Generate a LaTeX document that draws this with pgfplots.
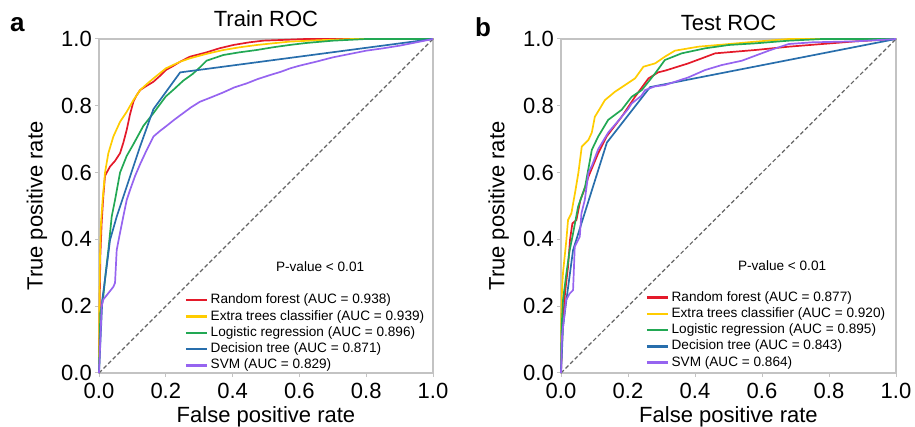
\documentclass[border=0pt]{standalone}
\usepackage{fontspec}
\setmainfont{Liberation Sans}
\usepackage{pgfplots}
\pgfplotsset{compat=1.18}
\definecolor{rfred}{RGB}{228,26,42}
\definecolor{etyellow}{RGB}{255,204,0}
\definecolor{lrgreen}{RGB}{34,168,84}
\definecolor{dtblue}{RGB}{40,110,172}
\definecolor{svmpurple}{RGB}{150,100,240}
\definecolor{framegray}{RGB}{195,195,195}
\definecolor{diaggray}{RGB}{100,100,100}

\pgfplotsset{rocaxis/.style={
  width=334pt, height=334pt, scale only axis,
  xmin=0, xmax=1, ymin=0, ymax=1,
  xtick={0,0.2,0.4,0.6,0.8,1}, ytick={0,0.2,0.4,0.6,0.8,1},
  xticklabels={0.0,0.2,0.4,0.6,0.8,1.0},
  yticklabels={0.0,0.2,0.4,0.6,0.8,1.0},
  tick label style={font=\fontsize{22}{26}\selectfont},
  xticklabel style={inner sep=0pt, yshift=-6pt},
  yticklabel style={inner sep=0pt, xshift=-3pt},
  axis line style={framegray, line width=1.2pt},
  tick style={framegray, line width=1pt},
  tick align=outside, major tick length=4pt,
  xtick pos=bottom, ytick pos=left,
  label style={font=\fontsize{22}{26}\selectfont},
  xlabel={False positive rate}, ylabel={True positive rate},
  xlabel style={at={(axis description cs:0.5,-0.132)}, anchor=center},
  ylabel style={at={(axis description cs:-0.186,0.5)}, anchor=center},
  title style={font=\fontsize{22}{26}\selectfont, anchor=base},
  clip=false,
  legend cell align=left,
  legend image code/.code={\draw[#1, line width=2.5pt] (0pt,0pt) -- (21pt,0pt);},
  every axis plot/.append style={line width=1.7pt},
}}

\begin{document}
\begin{tikzpicture}[x=1pt, y=1pt]
\useasboundingbox (0,0) rectangle (915,427);

% ---------------- Train ROC ----------------
\begin{axis}[rocaxis, at={(99pt,54pt)}, anchor=south west,
  title={Train ROC}, title style={at={(axis description cs:0.5,1.018)}},
  legend style={at={(axis description cs:0.256,0.238)}, anchor=north west,
    draw=none, fill=none, inner sep=0pt, row sep=3.3pt,
    font=\fontsize{13.6}{16}\selectfont,
    nodes={inner xsep=2.5pt, inner ysep=0pt, text height=10pt, text depth=3pt}}]
\addplot[forget plot, diaggray, line width=1.2pt, dash pattern=on 4pt off 2.5pt] coordinates {(0,0) (1,1)};
\addplot[rfred] coordinates {
(0,0) (0.002,0.2) (0.004,0.35) (0.008,0.45) (0.013,0.53) (0.018,0.59) (0.023,0.6)
(0.033,0.618) (0.048,0.635) (0.063,0.658) (0.073,0.69) (0.083,0.728) (0.093,0.775)
(0.103,0.812) (0.113,0.832) (0.123,0.847) (0.143,0.86) (0.163,0.872) (0.183,0.89)
(0.2,0.907) (0.22,0.918) (0.243,0.932) (0.272,0.947) (0.322,0.96) (0.36,0.972)
(0.402,0.982) (0.45,0.99) (0.492,0.995) (0.57,0.998) (0.62,1) (1,1)};
\addlegendentry{Random forest (AUC = 0.938)}
\addplot[etyellow] coordinates {
(0,0) (0.001,0.2) (0.003,0.35) (0.006,0.45) (0.011,0.52) (0.018,0.6) (0.028,0.658)
(0.043,0.708) (0.053,0.73) (0.063,0.752) (0.083,0.782) (0.103,0.817) (0.123,0.847)
(0.143,0.865) (0.163,0.882) (0.183,0.898) (0.2,0.912) (0.243,0.932) (0.272,0.942)
(0.32,0.955) (0.372,0.967) (0.42,0.975) (0.472,0.982) (0.52,0.987) (0.57,0.992)
(0.65,0.996) (0.76,1) (1,1)};
\addlegendentry{Extra trees classifier (AUC = 0.939)}
\addplot[lrgreen] coordinates {
(0,0) (0.004,0.18) (0.013,0.23) (0.02,0.3) (0.028,0.368) (0.038,0.468) (0.048,0.518)
(0.063,0.6) (0.083,0.65) (0.103,0.685) (0.133,0.74) (0.163,0.778) (0.2,0.828)
(0.225,0.85) (0.252,0.875) (0.28,0.895) (0.302,0.915) (0.322,0.935) (0.372,0.952)
(0.42,0.96) (0.472,0.967) (0.52,0.975) (0.57,0.982) (0.62,0.988) (0.7,0.995)
(0.8,1) (1,1)};
\addlegendentry{Logistic regression (AUC = 0.896)}
\addplot[dtblue] coordinates {
(0,0) (0.01,0.22) (0.023,0.318) (0.033,0.398) (0.053,0.468) (0.073,0.528)
(0.123,0.678) (0.163,0.79) (0.243,0.9) (1,1)};
\addlegendentry{Decision tree (AUC = 0.871)}
\addplot[svmpurple] coordinates {
(0,0) (0.008,0.2) (0.013,0.22) (0.043,0.258) (0.048,0.27) (0.053,0.368) (0.063,0.42)
(0.073,0.47) (0.083,0.518) (0.093,0.548) (0.108,0.59) (0.123,0.625) (0.143,0.668)
(0.163,0.708) (0.183,0.725) (0.2,0.738) (0.225,0.758) (0.252,0.778) (0.275,0.795)
(0.302,0.812) (0.335,0.825) (0.372,0.84) (0.405,0.855) (0.442,0.867) (0.475,0.88)
(0.512,0.892) (0.545,0.902) (0.572,0.912) (0.6,0.92) (0.65,0.932) (0.7,0.945)
(0.75,0.955) (0.8,0.965) (0.85,0.972) (0.9,0.98) (0.95,0.99) (1,1)};
\addlegendentry{SVM (AUC = 0.829)}
\node[font=\fontsize{13.6}{16}\selectfont] at (axis cs:0.662,0.317) {P-value < 0.01};
\end{axis}

% ---------------- Test ROC ----------------
\begin{axis}[rocaxis, at={(561pt,54pt)}, anchor=south west, width=335pt,
  title={Test ROC}, title style={at={(axis description cs:0.5,1.0075)}},
  legend style={at={(axis description cs:0.252,0.246)}, anchor=north west,
    draw=none, fill=none, inner sep=0pt, row sep=3.3pt,
    font=\fontsize{13.6}{16}\selectfont,
    nodes={inner xsep=2.5pt, inner ysep=0pt, text height=10pt, text depth=3pt}}]
\addplot[forget plot, diaggray, line width=1.2pt, dash pattern=on 4pt off 2.5pt] coordinates {(0,0) (1,1)};
\addplot[rfred] coordinates {
(0,0) (0.004,0.12) (0.012,0.24) (0.021,0.318) (0.027,0.40) (0.034,0.448) (0.046,0.458)
(0.058,0.518) (0.07,0.55) (0.082,0.588) (0.111,0.658) (0.136,0.708) (0.181,0.767)
(0.221,0.827) (0.261,0.882) (0.29,0.9) (0.31,0.905) (0.38,0.927) (0.46,0.957)
(0.58,0.967) (0.68,0.977) (0.88,0.993) (1,1)};
\addlegendentry{Random forest (AUC = 0.877)}
\addplot[etyellow] coordinates {
(0,0) (0.001,0.18) (0.003,0.25) (0.006,0.3) (0.016,0.398) (0.021,0.458) (0.031,0.478)
(0.038,0.518) (0.042,0.54) (0.052,0.6) (0.062,0.678) (0.082,0.698) (0.092,0.72)
(0.101,0.767) (0.115,0.79) (0.131,0.817) (0.161,0.842) (0.191,0.862) (0.221,0.882)
(0.246,0.917) (0.281,0.927) (0.31,0.947) (0.34,0.965) (0.41,0.977) (0.48,0.983)
(0.58,0.992) (0.68,1) (1,1)};
\addlegendentry{Extra trees classifier (AUC = 0.920)}
\addplot[lrgreen] coordinates {
(0,0) (0.001,0.09) (0.002,0.14) (0.006,0.218) (0.016,0.298) (0.026,0.368) (0.036,0.418)
(0.051,0.498) (0.072,0.558) (0.092,0.668) (0.111,0.708) (0.141,0.758) (0.181,0.788)
(0.211,0.827) (0.241,0.847) (0.281,0.897) (0.31,0.937) (0.36,0.957) (0.43,0.972)
(0.5,0.982) (0.58,0.987) (0.68,0.995) (0.78,1) (1,1)};
\addlegendentry{Logistic regression (AUC = 0.895)}
\addplot[dtblue] coordinates {
(0,0) (0.006,0.138) (0.016,0.218) (0.036,0.368) (0.137,0.69) (0.266,0.856) (1,1)};
\addlegendentry{Decision tree (AUC = 0.843)}
\addplot[svmpurple] coordinates {
(0,0) (0.003,0.11) (0.015,0.218) (0.026,0.238) (0.036,0.248) (0.038,0.298) (0.041,0.378)
(0.056,0.408) (0.061,0.478) (0.071,0.518) (0.082,0.6) (0.092,0.62) (0.111,0.67)
(0.141,0.72) (0.171,0.755) (0.2,0.79) (0.211,0.807) (0.24,0.83) (0.251,0.847)
(0.28,0.858) (0.31,0.862) (0.38,0.885) (0.43,0.907) (0.48,0.922) (0.54,0.935)
(0.58,0.95) (0.62,0.965) (0.68,0.985) (0.75,0.99) (0.88,0.993) (1,1)};
\addlegendentry{SVM (AUC = 0.864)}
\node[font=\fontsize{13.6}{16}\selectfont] at (axis cs:0.66,0.32) {P-value < 0.01};
\end{axis}

\node[anchor=base west, inner sep=0pt, font=\bfseries\fontsize{26}{30}\selectfont] at (10,395) {a};
\node[anchor=base west, inner sep=0pt, font=\bfseries\fontsize{26}{30}\selectfont] at (475,390.5) {b};
\end{tikzpicture}
\end{document}
